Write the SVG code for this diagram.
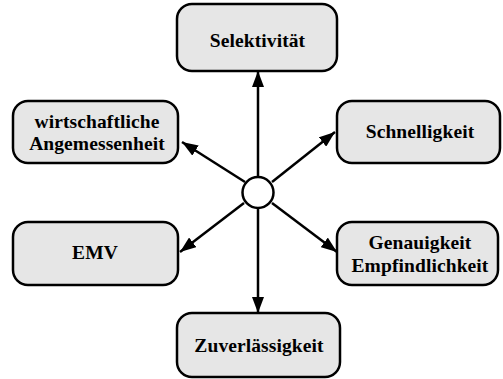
<svg xmlns="http://www.w3.org/2000/svg" width="503" height="379" viewBox="0 0 503 379">
<style>
.box{fill:#e6e6e6;stroke:#000;stroke-width:2.5}
.t{font-family:"Liberation Serif","Times New Roman",serif;font-weight:bold;font-size:19.5px;letter-spacing:0.1px;text-anchor:middle;fill:#000}
.c{stroke:#000;stroke-width:2.5;fill:none;marker-end:url(#ah)}
</style>
<defs>
<marker id="ah" viewBox="0 0 16 12" refX="16" refY="6" markerWidth="16" markerHeight="12" markerUnits="userSpaceOnUse" orient="auto">
<path d="M0,0 L16,6 L0,12 Z" fill="#000"/>
</marker>
</defs>
<g id="connectors">
<line class="c" x1="258" y1="177" x2="258" y2="71"/>
<line class="c" x1="258" y1="208" x2="258" y2="313"/>
<line class="c" x1="245" y1="182" x2="182" y2="142"/>
<line class="c" x1="272" y1="182" x2="335" y2="132"/>
<line class="c" x1="244" y1="203" x2="180" y2="252"/>
<line class="c" x1="272" y1="203" x2="337" y2="252"/>
</g>
<g id="center"><circle cx="258" cy="192.5" r="15.5" fill="#fff" stroke="#000" stroke-width="2.5"/></g>
<g id="selektivitaet"><rect class="box" x="177" y="4" width="160" height="67" rx="15"/><text class="t" x="257.5" y="47">Selektivität</text></g>
<g id="wirtschaftliche"><rect class="box" x="13" y="101" width="165" height="62" rx="15"/><text class="t" x="97" y="128">wirtschaftliche</text><text class="t" x="97" y="150">Angemessenheit</text></g>
<g id="schnelligkeit"><rect class="box" x="337" y="101" width="163" height="62" rx="15"/><text class="t" x="420" y="138">Schnelligkeit</text></g>
<g id="emv"><rect class="box" x="13" y="222" width="165" height="63" rx="15"/><text class="t" x="95" y="259">EMV</text></g>
<g id="genauigkeit"><rect class="box" x="337" y="222" width="161" height="63" rx="15"/><text class="t" x="420" y="249">Genauigkeit</text><text class="t" x="420" y="272">Empfindlichkeit</text></g>
<g id="zuverlaessigkeit"><rect class="box" x="177" y="313" width="163" height="64" rx="15"/><text class="t" x="259" y="352">Zuverlässigkeit</text></g>
</svg>
